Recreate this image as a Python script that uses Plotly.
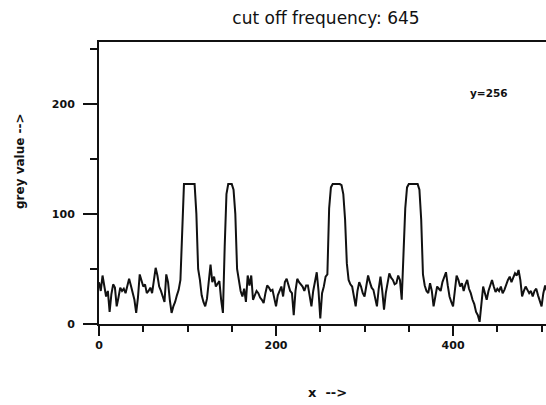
import plotly.graph_objects as go

# grey values sampled along the image row y=256 (x = 0, 2, 4, ... 510)
grey = [
    38, 30, 44, 36, 25, 30, 11, 27, 36, 33, 16, 24, 33, 30, 32, 28, 34, 41, 35, 28,
    22, 10, 24, 45, 38, 34, 36, 28, 30, 33, 28, 38, 51, 44, 34, 30, 24, 20, 45, 38,
    22, 10, 16, 20, 26, 31, 40, 95, 127, 127, 127, 127, 127, 127, 127, 100, 50, 40, 26, 20,
    16, 23, 40, 54, 38, 43, 34, 36, 39, 22, 10, 70, 118, 127, 127, 127, 122, 100, 50, 38,
    30, 25, 32, 20, 44, 35, 44, 22, 26, 30, 28, 24, 22, 19, 28, 35, 33, 30, 31, 24,
    16, 26, 30, 34, 25, 38, 41, 36, 30, 28, 8, 30, 41, 38, 36, 34, 30, 35, 35, 26,
    16, 30, 38, 47, 30, 5, 28, 34, 43, 45, 105, 124, 127, 127, 127, 127, 127, 126, 118, 95,
    55, 40, 36, 34, 24, 16, 30, 38, 34, 28, 25, 36, 44, 38, 33, 31, 24, 16, 32, 43,
    30, 13, 28, 36, 46, 42, 40, 36, 37, 44, 40, 22, 60, 105, 124, 127, 127, 127, 127, 127,
    127, 122, 95, 45, 35, 30, 28, 37, 30, 16, 26, 34, 32, 30, 38, 42, 47, 35, 25, 20,
    16, 30, 44, 40, 34, 37, 30, 36, 40, 32, 28, 22, 18, 11, 8, 2, 20, 34, 28, 22,
    30, 36, 40, 34, 29, 32, 30, 34, 28, 31, 36, 40, 43, 38, 42, 46, 44, 49, 40, 25,
    30, 34, 31, 28, 30, 25, 30, 32, 26, 20, 16, 28, 35, 30, 33, 28,
]
x_pos = list(range(0, 2 * len(grey), 2))

x_ticks = [0, 200, 400]
y_ticks = [0, 100, 200]
title_text = "cut off frequency: 645"
y_label = "grey value -->"
x_label = "x\u00a0\u00a0-->"
row_label = "y=256"

ink = "#111111"
bold = dict(family="DejaVu Sans", size=11, color=ink, weight="bold")

fig = go.Figure()
fig.add_trace(go.Scatter(
    x=x_pos, y=grey, mode="lines",
    line=dict(color=ink, width=2),
    showlegend=False, hoverinfo="skip",
))

fig.update_layout(
    width=546, height=405,
    margin=dict(l=99, r=0, t=42, b=81),
    paper_bgcolor="white", plot_bgcolor="white",
    showlegend=False,
    title=dict(text=title_text, x=0.597, xref="container", xanchor="center",
               y=1 - 18 / 405, yref="container", yanchor="middle",
               font=dict(family="DejaVu Sans", size=17, color=ink)),
    xaxis=dict(range=[0, 505], showgrid=False, zeroline=False,
               showline=True, linecolor=ink, linewidth=2, mirror=True,
               tickvals=x_ticks, ticks="outside", ticklen=10, tickwidth=2, tickcolor=ink,
               minor=dict(dtick=50, tick0=0, ticks="outside", ticklen=6, tickwidth=2, tickcolor=ink),
               tickfont=bold),
    yaxis=dict(range=[0, 256], showgrid=False, zeroline=False,
               showline=True, linecolor=ink, linewidth=2, mirror=False,
               tickvals=y_ticks, ticks="outside", ticklen=14, tickwidth=2, tickcolor=ink,
               minor=dict(dtick=50, tick0=0, ticks="outside", ticklen=7, tickwidth=2, tickcolor=ink),
               tickfont=bold, ticklabelstandoff=6),
    annotations=[
        dict(text=y_label, textangle=-90, xref="paper", yref="paper",
             x=(20 - 99) / 447, y=(324 - 161) / 282, xanchor="center", yanchor="middle",
             showarrow=False, font=dict(family="DejaVu Sans", size=12, color=ink, weight="bold")),
        dict(text=x_label, xref="paper", yref="paper",
             x=(327 - 99) / 447, y=(324 - 392) / 282, xanchor="center", yanchor="middle",
             showarrow=False, font=dict(family="DejaVu Sans", size=13, color=ink, weight="bold")),
        dict(text=row_label, xref="paper", yref="paper",
             x=(489 - 99) / 447, y=(324 - 93) / 282, xanchor="center", yanchor="middle",
             showarrow=False, font=dict(family="DejaVu Sans", size=10.5, color=ink, weight="bold")),
    ],
)

fig.write_html(
    "out.html",
    config={"displayModeBar": False},
    post_script="document.body.style.margin='0';document.body.style.overflow='hidden';",
)
